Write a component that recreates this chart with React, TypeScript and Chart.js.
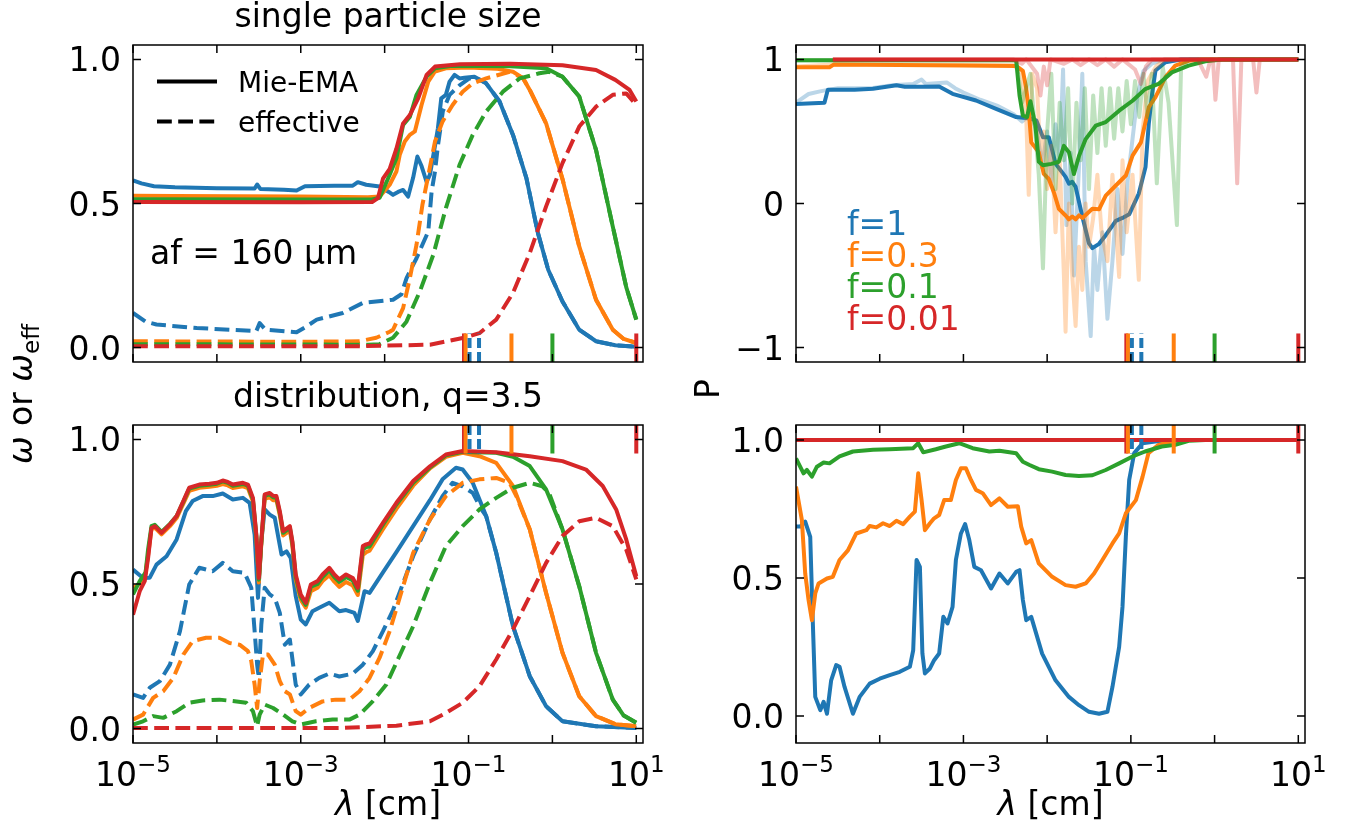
import React, { useEffect, useRef } from "react";
import { Chart, registerables } from "chart.js";

Chart.register(...registerables);

type Pair = [number, number];

const BLUE = "#1f77b4";
const ORANGE = "#ff7f0e";
const GREEN = "#2ca02c";
const RED = "#d62728";
const FONT = '"DejaVu Sans", "Liberation Sans", sans-serif';

// x axis: wavelength in cm (values stored as log10 of lambda)
const X_MIN = 1e-5;
const X_MAX = Math.pow(10, 1.08);
const X_TICK_EXP = [-5, -4, -3, -2, -1, 0, 1];
const X_LABEL_EXP = [-5, -3, -1, 1];

// ---------- top-left: single particle size (omega) ----------
const TL_MIE_F1: Pair[] = [[-5,0.58],[-4.9,0.57],[-4.75,0.56],[-4.5,0.556],[-4.0,0.553],[-3.55,0.552],[-3.52,0.566],[-3.48,0.55],[-3.2,0.548],[-3.05,0.545],[-2.95,0.56],[-2.6,0.562],[-2.38,0.562],[-2.32,0.574],[-2.22,0.565],[-2.06,0.559],[-1.95,0.54],[-1.9,0.53],[-1.84,0.54],[-1.78,0.547],[-1.72,0.524],[-1.66,0.59],[-1.61,0.663],[-1.56,0.63],[-1.5,0.575],[-1.46,0.6],[-1.4,0.7],[-1.365,0.761],[-1.325,0.865],[-1.27,0.877],[-1.226,0.923],[-1.167,0.946],[-1.107,0.934],[-1.05,0.936],[-0.93,0.94],[-0.79,0.917],[-0.63,0.854],[-0.47,0.738],[-0.31,0.588],[-0.175,0.4],[-0.05,0.27],[0.12,0.16],[0.32,0.062],[0.52,0.022],[0.75,0.008],[1.0,0.003]];
const TL_MIE_F03: Pair[] = [[-5,0.527],[-4.5,0.526],[-3,0.524],[-2.2,0.522],[-2.06,0.524],[-1.94,0.565],[-1.86,0.611],[-1.82,0.669],[-1.76,0.715],[-1.7,0.738],[-1.64,0.75],[-1.56,0.842],[-1.48,0.923],[-1.4,0.958],[-1.27,0.969],[-1.0,0.972],[-0.67,0.968],[-0.47,0.957],[-0.35,0.935],[-0.27,0.894],[-0.075,0.778],[0.123,0.582],[0.32,0.351],[0.52,0.166],[0.72,0.062],[0.85,0.03],[1.0,0.016]];
const TL_MIE_F01: Pair[] = [[-5,0.515],[-3,0.514],[-2.15,0.514],[-2.06,0.52],[-1.94,0.6],[-1.86,0.657],[-1.78,0.773],[-1.7,0.8],[-1.62,0.877],[-1.5,0.94],[-1.4,0.969],[-1.2,0.978],[-0.5,0.976],[-0.075,0.969],[0.12,0.94],[0.32,0.871],[0.52,0.686],[0.72,0.42],[0.88,0.21],[1.0,0.097]];
const TL_MIE_F001: Pair[] = [[-5,0.505],[-3,0.504],[-2.15,0.505],[-2.08,0.519],[-2.02,0.586],[-1.94,0.62],[-1.86,0.69],[-1.78,0.778],[-1.7,0.807],[-1.6,0.865],[-1.5,0.946],[-1.4,0.975],[-1.1,0.983],[-0.5,0.985],[0.12,0.98],[0.52,0.963],[0.75,0.929],[0.92,0.894],[1.0,0.854]];
const TL_EFF_F1: Pair[] = [[-5,0.12],[-4.85,0.09],[-4.72,0.08],[-4.24,0.068],[-3.53,0.057],[-3.49,0.085],[-3.42,0.062],[-3.05,0.053],[-2.95,0.07],[-2.81,0.097],[-2.5,0.12],[-2.26,0.155],[-1.9,0.166],[-1.8,0.185],[-1.74,0.24],[-1.7,0.264],[-1.62,0.31],[-1.55,0.357],[-1.48,0.403],[-1.44,0.542],[-1.4,0.611],[-1.365,0.7],[-1.306,0.82],[-1.226,0.877],[-1.107,0.91],[-0.99,0.934],[-0.87,0.93],[-0.79,0.917],[-0.63,0.854],[-0.47,0.738],[-0.31,0.588],[-0.175,0.4],[-0.05,0.27],[0.12,0.16],[0.32,0.062],[0.52,0.022],[0.75,0.008],[1.0,0.003]];
const TL_EFF_F03: Pair[] = [[-5,0.022],[-3,0.02],[-2.3,0.022],[-2.1,0.034],[-1.94,0.055],[-1.9,0.062],[-1.78,0.137],[-1.7,0.24],[-1.62,0.357],[-1.55,0.495],[-1.47,0.611],[-1.4,0.715],[-1.31,0.784],[-1.19,0.842],[-1.07,0.888],[-0.95,0.917],[-0.79,0.934],[-0.51,0.957],[-0.35,0.935],[-0.27,0.894],[-0.075,0.778],[0.123,0.582],[0.32,0.351],[0.52,0.166],[0.72,0.062],[0.85,0.03],[1.0,0.016]];
const TL_EFF_F01: Pair[] = [[-5,0.012],[-2.2,0.01],[-2.06,0.012],[-1.9,0.034],[-1.74,0.09],[-1.58,0.195],[-1.42,0.322],[-1.27,0.484],[-1.107,0.634],[-0.95,0.738],[-0.79,0.819],[-0.59,0.888],[-0.39,0.934],[-0.155,0.952],[-0.04,0.957],[0.12,0.94],[0.32,0.871],[0.52,0.686],[0.72,0.42],[0.88,0.21],[1.0,0.097]];
const TL_EFF_F001: Pair[] = [[-5,0.005],[-2.3,0.005],[-1.46,0.01],[-1.07,0.033],[-0.87,0.05],[-0.67,0.097],[-0.47,0.19],[-0.27,0.328],[-0.075,0.49],[0.12,0.64],[0.32,0.767],[0.52,0.836],[0.72,0.877],[0.88,0.882],[1.0,0.842]];

// ---------- top-right: P, single particle ----------
const TR_F1: Pair[] = [[-5,0.69],[-4.66,0.7],[-4.62,0.79],[-4.3,0.79],[-4.08,0.796],[-3.8,0.82],[-3.7,0.81],[-3.5,0.81],[-3.29,0.812],[-3.13,0.761],[-2.85,0.715],[-2.61,0.657],[-2.37,0.6],[-2.2,0.59],[-2.13,0.577],[-2.05,0.46],[-1.98,0.46],[-1.94,0.37],[-1.9,0.277],[-1.78,0.185],[-1.74,0.138],[-1.7,0.15],[-1.66,0.115],[-1.58,-0.09],[-1.5,-0.277],[-1.46,-0.31],[-1.38,-0.28],[-1.3,-0.22],[-1.18,-0.12],[-1.1,-0.1],[-1.02,-0.075],[-0.905,0.069],[-0.825,0.254],[-0.786,0.554],[-0.746,0.761],[-0.706,0.923],[-0.587,0.98],[-0.4,1.0],[1.0,1.0]];
const TR_F03: Pair[] = [[-5,0.946],[-4.6,0.946],[-4.55,0.964],[-3,0.958],[-2.37,0.955],[-2.29,0.92],[-2.25,0.8],[-2.22,0.65],[-2.19,0.424],[-2.1,0.355],[-2.04,0.205],[-1.98,0.17],[-1.92,0.078],[-1.86,-0.037],[-1.78,-0.083],[-1.74,-0.11],[-1.7,-0.09],[-1.66,-0.11],[-1.62,-0.083],[-1.58,-0.1],[-1.54,-0.08],[-1.46,-0.037],[-1.38,-0.04],[-1.3,0.055],[-1.18,0.125],[-1.06,0.194],[-0.98,0.332],[-0.88,0.424],[-0.785,0.669],[-0.706,0.738],[-0.587,0.877],[-0.47,0.957],[-0.31,0.99],[-0.15,1.0],[1.0,1.0]];
const TR_F01: Pair[] = [[-5,0.995],[-2.37,0.995],[-2.33,0.75],[-2.29,0.61],[-2.24,0.6],[-2.2,0.71],[-2.14,0.54],[-2.1,0.29],[-2.05,0.265],[-1.95,0.275],[-1.86,0.29],[-1.8,0.4],[-1.74,0.355],[-1.68,0.205],[-1.62,0.33],[-1.54,0.447],[-1.42,0.54],[-1.3,0.565],[-1.14,0.644],[-0.98,0.713],[-0.83,0.794],[-0.67,0.83],[-0.51,0.91],[-0.31,0.957],[-0.11,0.987],[0.09,1.0],[1.0,1.0]];
const TR_F001: Pair[] = [[-4.56,1.0],[1.0,1.0]];
const TR_RAW_F1: Pair[] = [[-5,0.7],[-4.85,0.76],[-4.7,0.78],[-4.5,0.8],[-4.1,0.8],[-3.85,0.82],[-3.6,0.83],[-3.5,0.86],[-3.45,0.83],[-3.2,0.84],[-3.1,0.8],[-3.0,0.77],[-2.8,0.72],[-2.6,0.68],[-2.4,0.62],[-2.3,0.57],[-2.2,0.62],[-2.12,0.5],[-2.06,0.25],[-2.0,0.5],[-1.95,0.15],[-1.9,0.55],[-1.85,0.3],[-1.81,0.93],[-1.77,-0.15],[-1.72,0.35],[-1.68,-0.5],[-1.62,0.25],[-1.58,0.9],[-1.54,-0.4],[-1.48,-0.92],[-1.44,-0.3],[-1.4,-0.6],[-1.34,-0.2],[-1.28,-0.8],[-1.22,-0.4],[-1.16,0.1],[-1.1,-0.35],[-1.04,0.15],[-0.98,0.45],[-0.92,0.75],[-0.85,0.92],[-0.75,0.97],[-0.6,1.0],[1.0,1.0]];
const TR_RAW_F03: Pair[] = [[-5,0.95],[-4.56,0.965],[-2.4,0.96],[-2.3,0.9],[-2.25,0.6],[-2.22,0.06],[-2.18,0.9],[-2.12,0.8],[-2.08,0.3],[-2.04,0.5],[-2.0,0.1],[-1.95,0.4],[-1.9,-0.2],[-1.85,0.3],[-1.8,-0.5],[-1.78,-0.89],[-1.74,0.0],[-1.7,-0.5],[-1.66,-0.85],[-1.62,-0.3],[-1.58,-0.6],[-1.54,0.0],[-1.5,-0.3],[-1.45,-0.1],[-1.4,0.2],[-1.35,-0.2],[-1.28,-0.4],[-1.22,0.2],[-1.14,-0.51],[-1.1,0.3],[-1.05,-0.2],[-0.98,0.2],[-0.905,-0.53],[-0.86,0.5],[-0.8,0.85],[-0.7,0.95],[-0.6,1.0],[1.0,1.0]];
const TR_RAW_F01: Pair[] = [[-5,0.995],[-2.37,0.995],[-2.3,0.7],[-2.2,0.9],[-2.1,0.2],[-2.05,-0.45],[-2.0,0.5],[-1.95,0.9],[-1.9,0.1],[-1.85,0.7],[-1.8,0.3],[-1.75,0.8],[-1.7,0.0],[-1.65,0.7],[-1.6,0.3],[-1.55,0.8],[-1.5,0.1],[-1.45,0.75],[-1.4,0.35],[-1.35,0.8],[-1.3,0.4],[-1.25,0.8],[-1.2,0.45],[-1.15,0.8],[-1.1,0.5],[-1.05,0.85],[-1.0,0.55],[-0.95,0.85],[-0.9,0.6],[-0.85,0.9],[-0.8,0.6],[-0.75,0.9],[-0.69,0.14],[-0.62,0.95],[-0.55,0.7],[-0.45,-0.15],[-0.4,0.95],[-0.3,1.0],[1.0,1.0]];
const TR_RAW_F001: Pair[] = [[-4.56,1.0],[-2.4,1.0],[-2.3,0.97],[-2.25,1.0],[-2.12,0.9],[-2.08,0.75],[-2.04,0.95],[-2.0,0.82],[-1.96,1.0],[-1.8,0.97],[-1.7,1.0],[-1.6,0.96],[-1.5,1.0],[-1.4,0.96],[-1.3,1.0],[-1.2,0.95],[-1.1,1.0],[-0.95,0.93],[-0.88,0.83],[-0.82,0.95],[-0.75,1.0],[-0.2,1.0],[-0.1,0.88],[-0.05,1.0],[-0.02,1.0],[0.01,0.72],[0.05,1.0],[0.22,1.0],[0.27,0.14],[0.32,1.0],[0.46,1.0],[0.5,0.77],[0.54,1.0],[1.0,1.0]];

// ---------- bottom-left: distribution q=3.5 (omega) ----------
const BL_MIE_F1: Pair[] = [[-5,0.55],[-4.88,0.521],[-4.8,0.522],[-4.72,0.567],[-4.6,0.596],[-4.48,0.654],[-4.37,0.752],[-4.29,0.787],[-4.17,0.804],[-4.05,0.804],[-3.93,0.813],[-3.81,0.792],[-3.69,0.798],[-3.61,0.781],[-3.55,0.671],[-3.51,0.452],[-3.47,0.648],[-3.43,0.758],[-3.37,0.74],[-3.31,0.729],[-3.23,0.602],[-3.17,0.613],[-3.12,0.59],[-3.06,0.458],[-3.0,0.377],[-2.94,0.36],[-2.86,0.406],[-2.78,0.418],[-2.66,0.435],[-2.54,0.406],[-2.46,0.41],[-2.36,0.4],[-2.32,0.372],[-2.24,0.475],[-2.18,0.469],[-2.02,0.54],[-1.86,0.61],[-1.66,0.7],[-1.46,0.79],[-1.31,0.862],[-1.15,0.902],[-1.07,0.896],[-0.95,0.85],[-0.79,0.735],[-0.67,0.608],[-0.47,0.354],[-0.27,0.181],[-0.075,0.077],[0.12,0.025],[0.52,0.008],[1.0,0.002]];
const BL_MIE_F03: Pair[] = [[-5,0.487],[-4.92,0.5],[-4.86,0.52],[-4.82,0.6],[-4.78,0.69],[-4.74,0.695],[-4.66,0.672],[-4.56,0.7],[-4.48,0.728],[-4.4,0.778],[-4.33,0.822],[-4.21,0.833],[-4.09,0.836],[-4.0,0.84],[-3.93,0.846],[-3.87,0.841],[-3.81,0.832],[-3.69,0.838],[-3.63,0.832],[-3.57,0.785],[-3.53,0.66],[-3.5,0.505],[-3.47,0.64],[-3.43,0.795],[-3.37,0.8],[-3.33,0.79],[-3.29,0.79],[-3.25,0.738],[-3.21,0.668],[-3.13,0.685],[-3.1,0.632],[-3.06,0.515],[-3.0,0.445],[-2.94,0.418],[-2.88,0.475],[-2.8,0.487],[-2.74,0.51],[-2.66,0.53],[-2.6,0.508],[-2.54,0.49],[-2.46,0.507],[-2.38,0.495],[-2.32,0.462],[-2.26,0.6],[-2.22,0.61],[-2.18,0.615],[-2.02,0.69],[-1.86,0.76],[-1.66,0.84],[-1.46,0.9],[-1.27,0.94],[-1.07,0.954],[-0.87,0.942],[-0.67,0.919],[-0.47,0.839],[-0.27,0.689],[-0.075,0.469],[0.12,0.262],[0.32,0.112],[0.52,0.043],[0.75,0.015],[1.0,0.008]];
const BL_MIE_F01: Pair[] = [[-5,0.464],[-4.92,0.51],[-4.85,0.54],[-4.82,0.62],[-4.78,0.7],[-4.74,0.705],[-4.66,0.68],[-4.56,0.708],[-4.48,0.735],[-4.4,0.785],[-4.33,0.83],[-4.21,0.84],[-4.09,0.843],[-4.0,0.847],[-3.93,0.855],[-3.87,0.85],[-3.81,0.84],[-3.69,0.846],[-3.63,0.84],[-3.57,0.792],[-3.53,0.668],[-3.5,0.515],[-3.47,0.645],[-3.43,0.805],[-3.37,0.81],[-3.33,0.8],[-3.29,0.798],[-3.25,0.746],[-3.21,0.677],[-3.13,0.695],[-3.1,0.642],[-3.06,0.525],[-3.0,0.455],[-2.94,0.428],[-2.88,0.49],[-2.8,0.5],[-2.74,0.524],[-2.66,0.547],[-2.6,0.524],[-2.54,0.507],[-2.46,0.524],[-2.38,0.512],[-2.32,0.477],[-2.26,0.62],[-2.22,0.628],[-2.18,0.63],[-2.02,0.705],[-1.86,0.775],[-1.66,0.85],[-1.46,0.903],[-1.27,0.945],[-1.07,0.957],[-0.67,0.954],[-0.47,0.94],[-0.27,0.908],[-0.075,0.827],[0.12,0.689],[0.32,0.492],[0.52,0.262],[0.72,0.1],[0.85,0.045],[1.0,0.02]];
const BL_MIE_F001: Pair[] = [[-5,0.394],[-4.92,0.475],[-4.86,0.51],[-4.82,0.59],[-4.78,0.694],[-4.74,0.7],[-4.66,0.677],[-4.56,0.706],[-4.48,0.735],[-4.4,0.787],[-4.33,0.833],[-4.21,0.844],[-4.09,0.847],[-4.0,0.85],[-3.93,0.858],[-3.87,0.853],[-3.81,0.844],[-3.69,0.85],[-3.63,0.844],[-3.57,0.798],[-3.53,0.671],[-3.5,0.521],[-3.47,0.65],[-3.43,0.81],[-3.37,0.815],[-3.33,0.805],[-3.29,0.804],[-3.25,0.752],[-3.21,0.683],[-3.13,0.7],[-3.1,0.648],[-3.06,0.533],[-3.0,0.464],[-2.94,0.435],[-2.88,0.498],[-2.8,0.51],[-2.74,0.533],[-2.66,0.556],[-2.6,0.533],[-2.54,0.516],[-2.46,0.533],[-2.38,0.521],[-2.32,0.487],[-2.26,0.631],[-2.22,0.637],[-2.18,0.64],[-2.02,0.712],[-1.86,0.781],[-1.66,0.856],[-1.46,0.907],[-1.27,0.948],[-1.07,0.96],[-0.67,0.956],[-0.27,0.942],[0.12,0.925],[0.4,0.896],[0.6,0.839],[0.76,0.758],[0.88,0.654],[1.0,0.527]];
const BL_EFF_F1: Pair[] = [[-5,0.118],[-4.88,0.106],[-4.8,0.141],[-4.68,0.164],[-4.56,0.221],[-4.44,0.337],[-4.33,0.498],[-4.21,0.556],[-4.13,0.55],[-4.05,0.544],[-3.93,0.573],[-3.81,0.544],[-3.67,0.539],[-3.59,0.487],[-3.55,0.337],[-3.52,0.221],[-3.5,0.175],[-3.47,0.36],[-3.43,0.487],[-3.37,0.464],[-3.31,0.452],[-3.25,0.4],[-3.19,0.29],[-3.13,0.308],[-3.06,0.152],[-3.0,0.118],[-2.9,0.152],[-2.78,0.175],[-2.66,0.19],[-2.54,0.18],[-2.38,0.19],[-2.26,0.221],[-2.14,0.268],[-2.02,0.337],[-1.9,0.41],[-1.66,0.596],[-1.46,0.723],[-1.31,0.804],[-1.19,0.85],[-1.07,0.838],[-0.95,0.815],[-0.85,0.76],[-0.79,0.735],[-0.67,0.608],[-0.47,0.354],[-0.27,0.181],[-0.075,0.077],[0.12,0.025],[0.52,0.008],[1.0,0.002]];
const BL_EFF_F03: Pair[] = [[-5,0.031],[-4.88,0.048],[-4.76,0.106],[-4.64,0.129],[-4.52,0.175],[-4.4,0.256],[-4.29,0.302],[-4.13,0.314],[-3.97,0.314],[-3.85,0.296],[-3.73,0.29],[-3.63,0.268],[-3.59,0.233],[-3.55,0.152],[-3.52,0.071],[-3.49,0.164],[-3.45,0.256],[-3.39,0.256],[-3.31,0.221],[-3.25,0.164],[-3.19,0.129],[-3.13,0.118],[-3.06,0.06],[-3.0,0.048],[-2.9,0.071],[-2.74,0.094],[-2.58,0.1],[-2.42,0.1],[-2.3,0.129],[-2.18,0.175],[-2.06,0.245],[-1.94,0.337],[-1.66,0.608],[-1.46,0.723],[-1.27,0.804],[-1.07,0.85],[-0.87,0.862],[-0.67,0.867],[-0.51,0.85],[-0.43,0.804],[-0.27,0.689],[-0.075,0.469],[0.12,0.262],[0.32,0.112],[0.52,0.043],[0.75,0.015],[1.0,0.008]];
const BL_EFF_F01: Pair[] = [[-5,0.014],[-4.88,0.025],[-4.76,0.043],[-4.64,0.037],[-4.48,0.06],[-4.33,0.089],[-4.17,0.097],[-3.97,0.1],[-3.81,0.095],[-3.65,0.089],[-3.57,0.06],[-3.52,0.008],[-3.49,0.048],[-3.43,0.083],[-3.33,0.071],[-3.21,0.048],[-3.1,0.025],[-3.0,0.014],[-2.82,0.025],[-2.62,0.031],[-2.42,0.031],[-2.3,0.048],[-2.14,0.095],[-1.98,0.152],[-1.66,0.354],[-1.46,0.504],[-1.27,0.631],[-1.07,0.7],[-0.87,0.758],[-0.67,0.798],[-0.47,0.833],[-0.27,0.85],[-0.12,0.838],[-0.04,0.815],[0.12,0.689],[0.32,0.492],[0.52,0.262],[0.72,0.1],[0.85,0.045],[1.0,0.02]];
const BL_EFF_F001: Pair[] = [[-5,0.002],[-2.5,0.002],[-1.86,0.01],[-1.46,0.025],[-1.27,0.054],[-1.07,0.089],[-0.87,0.146],[-0.67,0.239],[-0.47,0.343],[-0.27,0.458],[-0.075,0.573],[0.12,0.666],[0.32,0.717],[0.52,0.729],[0.72,0.7],[0.88,0.619],[1.0,0.516]];

// ---------- bottom-right: P, distribution ----------
const BR_F1: Pair[] = [[-5,0.686],[-4.95,0.686],[-4.89,0.704],[-4.83,0.649],[-4.8,0.347],[-4.77,0.069],[-4.71,0.021],[-4.67,0.051],[-4.63,0.008],[-4.58,0.129],[-4.52,0.184],[-4.48,0.178],[-4.42,0.105],[-4.32,0.008],[-4.24,0.069],[-4.12,0.117],[-4.0,0.135],[-3.88,0.148],[-3.76,0.16],[-3.64,0.178],[-3.6,0.238],[-3.56,0.565],[-3.52,0.54],[-3.49,0.226],[-3.46,0.154],[-3.4,0.172],[-3.35,0.202],[-3.29,0.226],[-3.24,0.359],[-3.19,0.335],[-3.13,0.395],[-3.09,0.565],[-3.03,0.661],[-2.98,0.695],[-2.93,0.637],[-2.87,0.54],[-2.79,0.528],[-2.67,0.462],[-2.57,0.516],[-2.47,0.48],[-2.37,0.522],[-2.33,0.528],[-2.29,0.42],[-2.25,0.347],[-2.19,0.359],[-2.06,0.226],[-1.9,0.129],[-1.74,0.069],[-1.62,0.039],[-1.5,0.015],[-1.38,0.008],[-1.28,0.015],[-1.22,0.105],[-1.14,0.25],[-1.1,0.395],[-1.06,0.649],[-1.02,0.855],[-0.96,0.952],[-0.86,0.988],[-0.71,0.994],[-0.51,1.0],[1.0,1.0]];
const BR_F03: Pair[] = [[-5,0.831],[-4.93,0.71],[-4.89,0.516],[-4.85,0.42],[-4.81,0.347],[-4.77,0.444],[-4.73,0.48],[-4.63,0.498],[-4.56,0.504],[-4.48,0.565],[-4.38,0.6],[-4.28,0.661],[-4.16,0.673],[-4.12,0.688],[-4.04,0.683],[-3.96,0.698],[-3.88,0.688],[-3.8,0.707],[-3.72,0.695],[-3.64,0.722],[-3.58,0.74],[-3.54,0.879],[-3.5,0.782],[-3.46,0.673],[-3.4,0.698],[-3.35,0.716],[-3.29,0.728],[-3.23,0.782],[-3.15,0.782],[-3.09,0.855],[-3.03,0.897],[-2.97,0.897],[-2.91,0.855],[-2.85,0.819],[-2.77,0.807],[-2.67,0.764],[-2.57,0.788],[-2.47,0.758],[-2.35,0.76],[-2.31,0.686],[-2.25,0.625],[-2.19,0.637],[-2.1,0.553],[-1.94,0.504],[-1.78,0.474],[-1.66,0.468],[-1.54,0.48],[-1.44,0.516],[-1.34,0.565],[-1.22,0.625],[-1.14,0.661],[-1.06,0.734],[-0.94,0.782],[-0.86,0.867],[-0.79,0.952],[-0.67,0.982],[-0.51,0.994],[-0.31,1.0],[1.0,1.0]];
const BR_F01: Pair[] = [[-5,0.933],[-4.91,0.879],[-4.87,0.891],[-4.81,0.867],[-4.75,0.903],[-4.67,0.918],[-4.6,0.915],[-4.48,0.94],[-4.32,0.958],[-4.08,0.964],[-3.88,0.966],[-3.6,0.97],[-3.54,0.988],[-3.48,0.955],[-3.33,0.966],[-3.21,0.976],[-3.05,0.988],[-2.89,0.97],[-2.69,0.958],[-2.57,0.961],[-2.37,0.952],[-2.29,0.921],[-2.21,0.909],[-2.1,0.894],[-1.94,0.885],[-1.78,0.873],[-1.62,0.869],[-1.46,0.872],[-1.3,0.891],[-1.14,0.915],[-0.98,0.94],[-0.83,0.958],[-0.63,0.976],[-0.47,0.982],[-0.31,0.997],[-0.11,1.0],[1.0,1.0]];
const BR_F001: Pair[] = [[-5,1.0],[1.0,1.0]];

// ---------- reference wavelength marks (cm) ----------
const MARK_LAMBDA = [0.0883, 0.0923, 0.1028, 0.1334, 0.325, 1.0, 10.0];
const MARK_COLOR = [RED, ORANGE, BLUE, BLUE, ORANGE, GREEN, RED];
const MARK_DASHED = [false, false, true, true, false, false, false];

// ---------- helpers ----------
const LW = 4;
const DASH = [14.8, 6.4];
const TICK = 8;

function rgba(hex: string, a: number) {
  const n = parseInt(hex.slice(1), 16);
  return `rgba(${(n >> 16) & 255},${(n >> 8) & 255},${n & 255},${a})`;
}

function toPts(arr: Pair[]) {
  return arr.map(([lx, y]) => ({ x: Math.pow(10, lx), y }));
}

function lineDs(arr: Pair[], color: string, dashed = false, alpha = 1) {
  return {
    data: toPts(arr),
    borderColor: alpha < 1 ? rgba(color, alpha) : color,
    backgroundColor: color,
    borderWidth: LW,
    borderDash: dashed ? DASH : [],
    borderJoinStyle: "round",
    borderCapStyle: "butt",
    pointRadius: 0,
    pointHoverRadius: 0,
    fill: false,
    tension: 0,
  };
}

function markDatasets(yMin: number, yMax: number, atTop: boolean) {
  const span = (yMax - yMin) * 0.09;
  const y0 = atTop ? yMax : yMin;
  const y1 = atTop ? yMax - span : yMin + span;
  return MARK_LAMBDA.map((lam, i) => ({
    data: [{ x: lam, y: y0 }, { x: lam, y: y1 }],
    borderColor: MARK_COLOR[i],
    borderWidth: LW,
    borderDash: MARK_DASHED[i] ? [10, 4] : [],
    borderCapStyle: "butt",
    pointRadius: 0,
    fill: false,
  }));
}

type Run = { t: string; size: number; italic?: boolean; dy?: number };
type TextItem = { runs: Run[]; x: number; y: number; align: "left" | "center" | "right"; color?: string; rot?: boolean };

function drawRuns(ctx: CanvasRenderingContext2D, runs: Run[], x: number, y: number, align: string, color = "#000") {
  const fontOf = (r: Run) => `${r.italic ? "italic " : ""}${r.size}px ${FONT}`;
  let w = 0;
  for (const r of runs) {
    ctx.font = fontOf(r);
    w += ctx.measureText(r.t).width;
  }
  let cx = align === "center" ? x - w / 2 : align === "right" ? x - w : x;
  ctx.textAlign = "left";
  ctx.textBaseline = "alphabetic";
  ctx.fillStyle = color;
  for (const r of runs) {
    ctx.font = fontOf(r);
    ctx.fillText(r.t, cx, y + (r.dy || 0));
    cx += ctx.measureText(r.t).width;
  }
}

type Panel = {
  key: string;
  box: { left: number; top: number; right: number; bottom: number };
  yMin: number;
  yMax: number;
  yTicks: number[];
  yFmt: (v: number) => string;
  xLabels: boolean;
  datasets: any[];
  texts: TextItem[];
  legendLines?: { x0: number; x1: number; y: number; dashed: boolean }[];
};

const fmt1 = (v: number) => v.toFixed(1);
const fmtInt = (v: number) => (v < 0 ? "\u2212" + Math.abs(v) : String(v));
const LAMBDA_LABEL: Run[] = [{ t: "\u03bb", size: 33, italic: true }, { t: " [cm]", size: 33 }];

const PANELS: Panel[] = [
  {
    key: "tl",
    box: { left: 133, top: 45, right: 643, bottom: 362 },
    yMin: -0.05, yMax: 1.05, yTicks: [0, 0.5, 1], yFmt: fmt1, xLabels: false,
    datasets: [
      lineDs(TL_MIE_F1, BLUE), lineDs(TL_EFF_F1, BLUE, true),
      lineDs(TL_MIE_F03, ORANGE), lineDs(TL_EFF_F03, ORANGE, true),
      lineDs(TL_MIE_F01, GREEN), lineDs(TL_EFF_F01, GREEN, true),
      lineDs(TL_MIE_F001, RED), lineDs(TL_EFF_F001, RED, true),
      ...markDatasets(-0.05, 1.05, false),
    ],
    texts: [
      { runs: [{ t: "single particle size", size: 33 }], x: 388, y: 27, align: "center" },
      { runs: [{ t: "Mie-EMA", size: 28 }], x: 238, y: 91.5, align: "left" },
      { runs: [{ t: "effective", size: 28 }], x: 238, y: 131.5, align: "left" },
      { runs: [{ t: "af = 160 \u03bcm", size: 33 }], x: 150, y: 264, align: "left" },
      {
        runs: [
          { t: "\u03c9", size: 33, italic: true },
          { t: " or ", size: 33 },
          { t: "\u03c9", size: 33, italic: true },
          { t: "eff", size: 23, dy: 7 },
        ],
        x: 32, y: 394, align: "center", rot: true,
      },
    ],
    legendLines: [
      { x0: 157, x1: 217, y: 81.5, dashed: false },
      { x0: 157, x1: 217, y: 121.5, dashed: true },
    ],
  },
  {
    key: "tr",
    box: { left: 796, top: 45, right: 1305, bottom: 362 },
    yMin: -1.1, yMax: 1.1, yTicks: [-1, 0, 1], yFmt: fmtInt, xLabels: false,
    datasets: [
      lineDs(TR_F1, BLUE), lineDs(TR_RAW_F1, BLUE, false, 0.3),
      lineDs(TR_F03, ORANGE), lineDs(TR_RAW_F03, ORANGE, false, 0.3),
      lineDs(TR_F01, GREEN), lineDs(TR_RAW_F01, GREEN, false, 0.3),
      lineDs(TR_F001, RED), lineDs(TR_RAW_F001, RED, false, 0.3),
      ...markDatasets(-1.1, 1.1, false),
    ],
    texts: [
      { runs: [{ t: "f=1", size: 33 }], x: 847, y: 235, align: "left", color: BLUE },
      { runs: [{ t: "f=0.3", size: 33 }], x: 847, y: 266.7, align: "left", color: ORANGE },
      { runs: [{ t: "f=0.1", size: 33 }], x: 847, y: 298.3, align: "left", color: GREEN },
      { runs: [{ t: "f=0.01", size: 33 }], x: 847, y: 330, align: "left", color: RED },
      { runs: [{ t: "P", size: 33 }], x: 719, y: 389, align: "center", rot: true },
    ],
  },
  {
    key: "bl",
    box: { left: 133, top: 425, right: 643, bottom: 743 },
    yMin: -0.05, yMax: 1.05, yTicks: [0, 0.5, 1], yFmt: fmt1, xLabels: true,
    datasets: [
      lineDs(BL_MIE_F1, BLUE), lineDs(BL_EFF_F1, BLUE, true),
      lineDs(BL_MIE_F03, ORANGE), lineDs(BL_EFF_F03, ORANGE, true),
      lineDs(BL_MIE_F01, GREEN), lineDs(BL_EFF_F01, GREEN, true),
      lineDs(BL_MIE_F001, RED), lineDs(BL_EFF_F001, RED, true),
      ...markDatasets(-0.05, 1.05, true),
    ],
    texts: [
      { runs: [{ t: "distribution, q=3.5", size: 33 }], x: 388, y: 407, align: "center" },
      { runs: LAMBDA_LABEL, x: 388, y: 815, align: "center" },
    ],
  },
  {
    key: "br",
    box: { left: 796, top: 425, right: 1305, bottom: 743 },
    yMin: -0.098, yMax: 1.054, yTicks: [0, 0.5, 1], yFmt: fmt1, xLabels: true,
    datasets: [
      lineDs(BR_F1, BLUE), lineDs(BR_F03, ORANGE), lineDs(BR_F01, GREEN), lineDs(BR_F001, RED),
      ...markDatasets(-0.098, 1.054, true),
    ],
    texts: [{ runs: LAMBDA_LABEL, x: 1050.5, y: 815, align: "center" }],
  },
];

function decoPlugin(p: Panel) {
  return {
    id: "deco_" + p.key,
    afterDatasetsDraw(chart: any) {
      const ctx: CanvasRenderingContext2D = chart.ctx;
      const a = chart.chartArea;
      const xs = chart.scales.x;
      const ys = chart.scales.y;
      ctx.save();
      ctx.strokeStyle = "#000";
      ctx.lineWidth = 1.5;
      ctx.lineCap = "butt";
      ctx.setLineDash([]);
      ctx.beginPath();
      for (const e of X_TICK_EXP) {
        const px = xs.getPixelForValue(Math.pow(10, e));
        ctx.moveTo(px, a.bottom);
        ctx.lineTo(px, a.bottom - TICK);
        ctx.moveTo(px, a.top);
        ctx.lineTo(px, a.top + TICK);
      }
      for (const v of p.yTicks) {
        const py = ys.getPixelForValue(v);
        ctx.moveTo(a.left, py);
        ctx.lineTo(a.left + TICK, py);
        ctx.moveTo(a.right, py);
        ctx.lineTo(a.right - TICK, py);
      }
      ctx.stroke();
      ctx.strokeRect(a.left, a.top, a.right - a.left, a.bottom - a.top);

      // y tick labels
      ctx.fillStyle = "#000";
      ctx.textAlign = "right";
      ctx.textBaseline = "alphabetic";
      ctx.font = `33px ${FONT}`;
      for (const v of p.yTicks) {
        ctx.fillText(p.yFmt(v), a.left - 12, ys.getPixelForValue(v) + 12);
      }
      // x tick labels
      if (p.xLabels) {
        for (const e of X_LABEL_EXP) {
          const px = xs.getPixelForValue(Math.pow(10, e));
          const sup = (e < 0 ? "\u2212" : "") + Math.abs(e);
          drawRuns(ctx, [{ t: "10", size: 33 }, { t: sup, size: 23, dy: -14 }], px, a.bottom + 43, "center");
        }
      }
      // legend samples
      if (p.legendLines) {
        ctx.strokeStyle = "#000";
        ctx.lineWidth = LW;
        for (const l of p.legendLines) {
          ctx.setLineDash(l.dashed ? DASH : []);
          ctx.beginPath();
          ctx.moveTo(l.x0, l.y);
          ctx.lineTo(l.x1, l.y);
          ctx.stroke();
        }
        ctx.setLineDash([]);
      }
      // texts
      for (const t of p.texts) {
        if (t.rot) {
          ctx.save();
          ctx.translate(t.x, t.y);
          ctx.rotate(-Math.PI / 2);
          drawRuns(ctx, t.runs, 0, 0, t.align, t.color);
          ctx.restore();
        } else {
          drawRuns(ctx, t.runs, t.x, t.y, t.align, t.color);
        }
      }
      ctx.restore();
    },
  };
}

const W = 1346;
const H = 831;

function buildConfig(p: Panel): any {
  return {
    type: "line",
    data: { datasets: p.datasets.map((d, i) => ({ ...d, order: -i })) },
    options: {
      animation: false,
      responsive: false,
      maintainAspectRatio: false,
      devicePixelRatio: 1,
      events: [],
      layout: { padding: { left: p.box.left, top: p.box.top, right: W - p.box.right, bottom: H - p.box.bottom } },
      plugins: { legend: { display: false }, tooltip: { enabled: false }, title: { display: false } },
      scales: {
        x: { type: "logarithmic", min: X_MIN, max: X_MAX, display: false },
        y: { type: "linear", min: p.yMin, max: p.yMax, display: false },
      },
    },
    plugins: [decoPlugin(p)],
  };
}

export default function App() {
  const r0 = useRef<HTMLCanvasElement>(null);
  const r1 = useRef<HTMLCanvasElement>(null);
  const r2 = useRef<HTMLCanvasElement>(null);
  const r3 = useRef<HTMLCanvasElement>(null);
  const refs = [r0, r1, r2, r3];

  useEffect(() => {
    const charts = PANELS.map((p, i) => new Chart(refs[i].current as HTMLCanvasElement, buildConfig(p)));
    return () => charts.forEach((c) => c.destroy());
  }, []);

  return (
    <div style={{ position: "absolute", left: 0, top: 0, width: W, height: H, background: "#ffffff", overflow: "hidden" }}>
      {PANELS.map((p, i) => (
        <canvas
          key={p.key}
          ref={refs[i]}
          width={W}
          height={H}
          style={{ position: "absolute", left: 0, top: 0, width: W, height: H }}
        />
      ))}
    </div>
  );
}
